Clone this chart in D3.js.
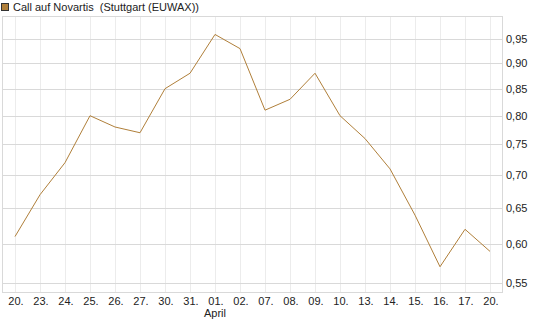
<!DOCTYPE html>
<html>
<head>
    <title>Call auf Novartis</title>
    <script src="https://d3js.org/d3.v7.js"></script>
    <style>
        body { margin: 0; background: #fff; }
        svg text { font-family: "Liberation Sans", Arial, sans-serif; font-size: 11px; fill: #222; white-space: pre; }
    </style>
</head>
<body>
    <svg id="chart"></svg>
    <script>
        // Data
        var days = ["20.", "23.", "24.", "25.", "26.", "27.", "30.", "31.", "01.", "02.",
                    "07.", "08.", "09.", "10.", "13.", "14.", "15.", "16.", "17.", "20."];
        var prices = [0.61, 0.67, 0.72, 0.80, 0.78, 0.77, 0.85, 0.88, 0.96, 0.93,
                      0.81, 0.83, 0.88, 0.80, 0.76, 0.71, 0.64, 0.57, 0.62, 0.59];
        var yTicks = [0.55, 0.60, 0.65, 0.70, 0.75, 0.80, 0.85, 0.90, 0.95];
        var monthLabel = { index: 8, text: "April" };
        var title = "Call auf Novartis  (Stuttgart (EUWAX))";

        var width = 545, height = 327;
        var plotLeft = 2.5, plotRight = 502.5, plotTop = 16.5, plotBottom = 292.5;
        var lineColor = "#b07f3a";

        var svg = d3.select("#chart").attr("width", width).attr("height", height);

        var x = d3.scalePoint()
            .domain(d3.range(days.length))
            .range([plotLeft, plotRight])
            .padding(0.5);

        var y = d3.scaleLog()
            .domain([0.538, 0.9995])
            .range([plotBottom, plotTop]);

        // vertical grid
        svg.append("g").selectAll("line")
            .data(d3.range(days.length))
            .enter().append("line")
            .attr("x1", function (d) { return Math.round(x(d)) + 0.5; })
            .attr("x2", function (d) { return Math.round(x(d)) + 0.5; })
            .attr("y1", plotTop).attr("y2", plotBottom)
            .attr("stroke", "#ececec");

        // horizontal grid
        svg.append("g").selectAll("line")
            .data(yTicks)
            .enter().append("line")
            .attr("x1", plotLeft).attr("x2", plotRight)
            .attr("y1", function (d) { return Math.round(y(d)) + 0.5; })
            .attr("y2", function (d) { return Math.round(y(d)) + 0.5; })
            .attr("stroke", "#d9d9d9");

        // frame
        svg.append("rect")
            .attr("x", plotLeft).attr("y", plotTop)
            .attr("width", plotRight - plotLeft).attr("height", plotBottom - plotTop)
            .attr("fill", "none")
            .attr("stroke", "#d9d9d9");

        // y labels on the right
        svg.append("g").selectAll("text")
            .data(yTicks)
            .enter().append("text")
            .attr("x", 506)
            .attr("y", function (d) { return y(d); })
            .attr("dy", "0.35em")
            .text(function (d) { return d.toFixed(2).replace(".", ","); });

        // x labels
        svg.append("g").selectAll("text")
            .data(days)
            .enter().append("text")
            .attr("x", function (d, i) { return x(i) + 1; })
            .attr("y", 305)
            .attr("text-anchor", "middle")
            .text(function (d) { return d; });

        svg.append("text")
            .attr("x", x(monthLabel.index))
            .attr("y", 317)
            .attr("text-anchor", "middle")
            .text(monthLabel.text);

        // price line
        var line = d3.line()
            .x(function (d, i) { return x(i); })
            .y(function (d) { return y(d); });

        svg.append("path")
            .datum(prices)
            .attr("d", line)
            .attr("fill", "none")
            .attr("stroke", lineColor)
            .attr("stroke-width", 1);

        // legend
        svg.append("rect")
            .attr("x", 1.5).attr("y", 3.5)
            .attr("width", 7).attr("height", 7)
            .attr("fill", lineColor)
            .attr("stroke", "#333");

        svg.append("text")
            .attr("x", 13)
            .attr("y", 11)
            .text(title);
    </script>
</body>
</html>
